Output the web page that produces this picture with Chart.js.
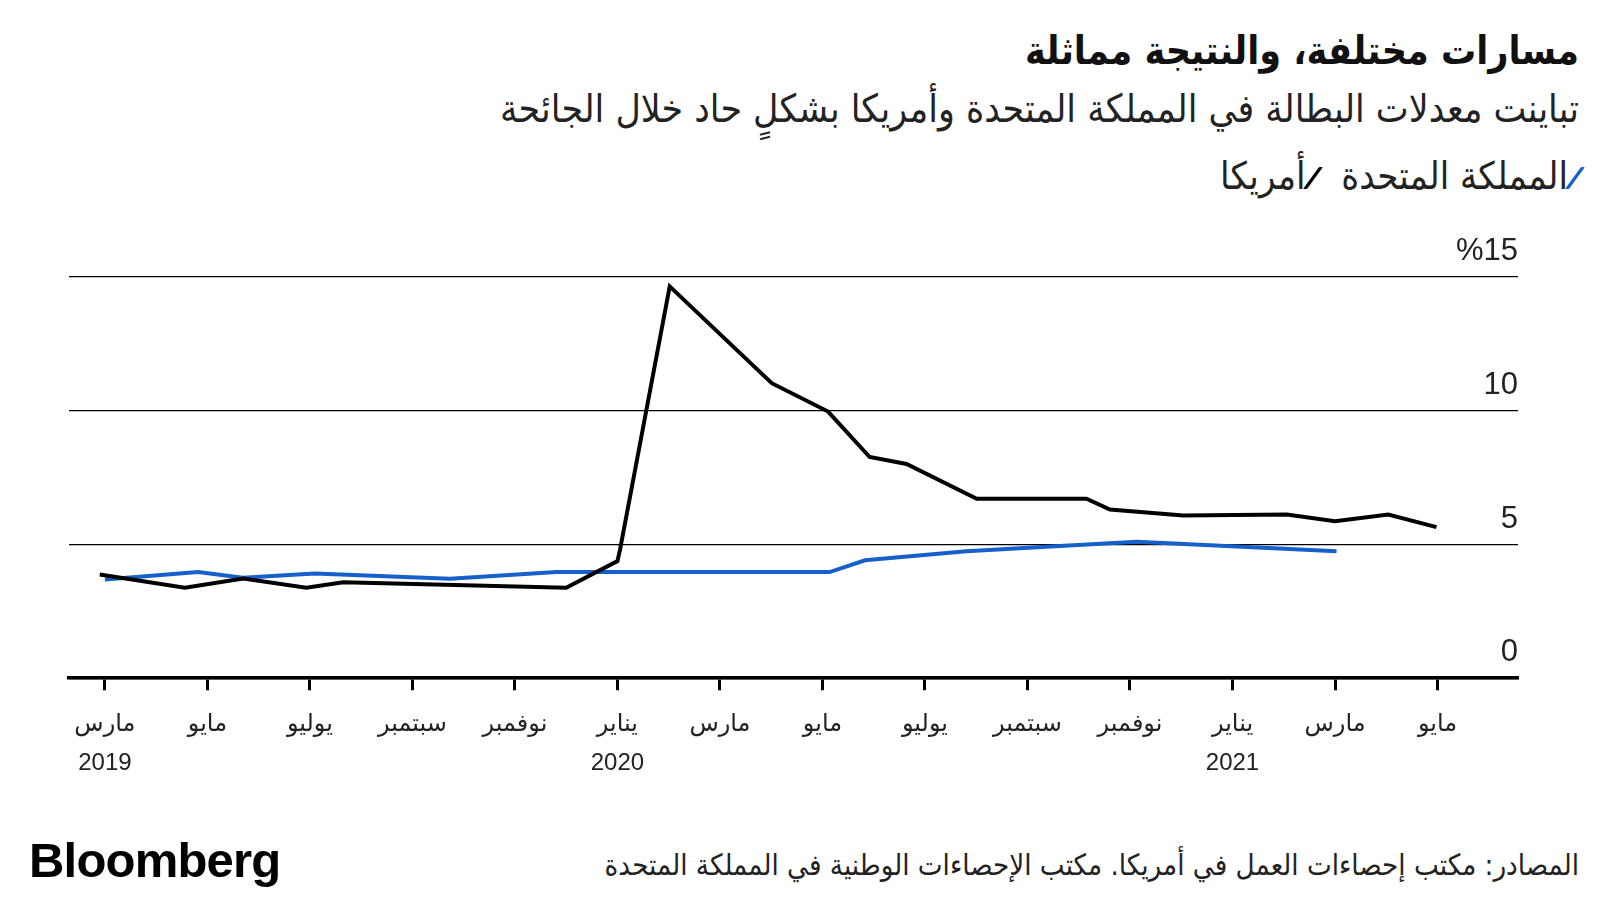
<!DOCTYPE html>
<html>
<head>
<meta charset="utf-8">
<script src="https://cdn.jsdelivr.net/npm/chart.js@4"></script>
<style>
  body { margin: 0; background: #fff; }
  #page { position: relative; width: 1600px; height: 900px; overflow: hidden; background: #fff; }
  .ar { position: absolute; direction: rtl; white-space: nowrap; color: #111;
        font-family: 'DejaVu Sans Condensed', 'DejaVu Sans', sans-serif; font-stretch: condensed; }
  #title { right: 21px; top: 27px; font-size: 39px; font-weight: bold; line-height: 48px; }
  #subtitle { right: 21px; top: 85px; font-size: 38.8px; line-height: 48px; color: #222; }
  #legend { right: 18px; top: 152px; font-size: 38px; line-height: 48px; color: #222; }
  .slash { display: inline-block; width: 4px; height: 22px; margin: 0 5px; vertical-align: 0px;
           transform: skewX(-36deg); border-radius: 1px; }
  #source { right: 21px; top: 847px; font-size: 29.2px; line-height: 36px; color: #222; }
  #logo { position: absolute; left: 29px; top: 831px; font-family: 'Liberation Sans', Arial, sans-serif;
          font-weight: bold; font-size: 49px; letter-spacing: -0.8px; line-height: 58px; color: #000; }
  #chart { position: absolute; left: 0; top: 200px; }
</style>
</head>
<body>
<div id="page">
  <div id="title" class="ar">مسارات مختلفة، والنتيجة مماثلة</div>
  <div id="subtitle" class="ar">تباينت معدلات البطالة في المملكة المتحدة وأمريكا بشكلٍ حاد خلال الجائحة</div>
  <div id="legend" class="ar"><span class="slash" style="background:#1660cc"></span>المملكة المتحدة&nbsp; <span class="slash" style="background:#000"></span>أمريكا</div>
  <canvas id="chart" width="1600" height="600"></canvas>
  <div id="logo">Bloomberg</div>
  <div id="source" class="ar">المصادر: مكتب إحصاءات العمل في أمريكا. مكتب الإحصاءات الوطنية في المملكة المتحدة</div>
</div>
<script>
// x values are months counted from March 2019 (0 = مارس 2019)
const us_x = [-0.1, 1.56, 2.7, 3.93, 4.65, 9.0, 10.0, 10.05, 11.02, 13.01, 14.11, 14.92, 15.64, 17.01, 19.15, 19.61, 21.04, 23.06, 24.0, 25.04, 25.98];
const us_y = [3.88, 3.38, 3.73, 3.38, 3.59, 3.38, 4.38, 4.8, 14.65, 11.03, 9.97, 8.27, 8.01, 6.71, 6.71, 6.31, 6.08, 6.12, 5.87, 6.12, 5.65];

const uk_x = [0, 1.82, 2.69, 4.1, 6.73, 8.81, 14.14, 14.83, 16.81, 18.63, 20.13, 24.03];
const uk_y = [3.69, 3.97, 3.76, 3.92, 3.72, 3.97, 3.97, 4.41, 4.75, 4.94, 5.1, 4.75];

const tick_pos = [0, 2, 4, 6, 8, 10, 12, 14, 16, 18, 20, 22, 24, 26];
const month_labels = ['مارس', 'مايو', 'يوليو', 'سبتمبر', 'نوفمبر', 'يناير', 'مارس', 'مايو', 'يوليو', 'سبتمبر', 'نوفمبر', 'يناير', 'مارس', 'مايو'];
const year_labels = ['2019', '', '', '', '', '2020', '', '', '', '', '', '2021', '', ''];

const y_ticks = [0, 5, 10, 15];
const y_labels = ['0', '5', '10', '%15'];

const us_color = '#000000';
const uk_color = '#1660cc';
const text_color = '#222';

function to_points(xs, ys) {
  let pts = [];
  for (let i = 0; i < xs.length; i++) pts.push({x: xs[i], y: ys[i]});
  return pts;
}

let config = {
  type: 'line',
  data: {
    datasets: [
      {
        label: 'أمريكا',
        data: to_points(us_x, us_y),
        borderColor: us_color,
        borderWidth: 4,
      },
      {
        label: 'المملكة المتحدة',
        data: to_points(uk_x, uk_y),
        borderColor: uk_color,
        borderWidth: 4,
      }
    ]
  },
  options: {
    responsive: false,
    animation: false,
    devicePixelRatio: 1,
    events: [],
    datasets: {
      line: { pointRadius: 0, tension: 0 }
    },
    layout: {
      padding: { left: 69, right: 82, top: 77, bottom: 2 }
    },
    plugins: {
      legend: { display: false },
      title: { display: false },
      tooltip: { enabled: false }
    },
    scales: {
      x: {
        type: 'linear',
        min: -0.7,
        max: 27.57,
        afterBuildTicks: (axis) => {
          axis.ticks = tick_pos.map(v => ({value: v}));
        },
        ticks: {
          autoSkip: false,
          maxRotation: 0,
          padding: 15,
          color: text_color,
          font: { family: "'Liberation Sans', 'DejaVu Sans', sans-serif", size: 24, lineHeight: 1.62 },
          callback: (value) => {
            let i = tick_pos.indexOf(value);
            if (i < 0) return '';
            return [month_labels[i], year_labels[i]];
          }
        },
        grid: {
          drawOnChartArea: false,
          drawTicks: true,
          tickLength: 12,
          tickWidth: 3,
          tickColor: '#000',
        },
        border: { display: true, color: '#000', width: 3.5 }
      },
      y: {
        position: 'right',
        min: 0,
        max: 15,
        afterBuildTicks: (axis) => {
          axis.ticks = y_ticks.map(v => ({value: v}));
        },
        ticks: {
          mirror: true,
          padding: 0,
          labelOffset: -25.5,
          color: text_color,
          font: { family: "'Liberation Sans', sans-serif", size: 31 },
          callback: (value) => {
            let i = y_ticks.indexOf(value);
            return i < 0 ? '' : y_labels[i];
          }
        },
        grid: {
          color: '#000',
          lineWidth: 1.3,
          drawTicks: false,
        },
        border: { display: false }
      }
    }
  }
};

new Chart(document.getElementById('chart').getContext('2d'), config);
</script>
</body>
</html>
